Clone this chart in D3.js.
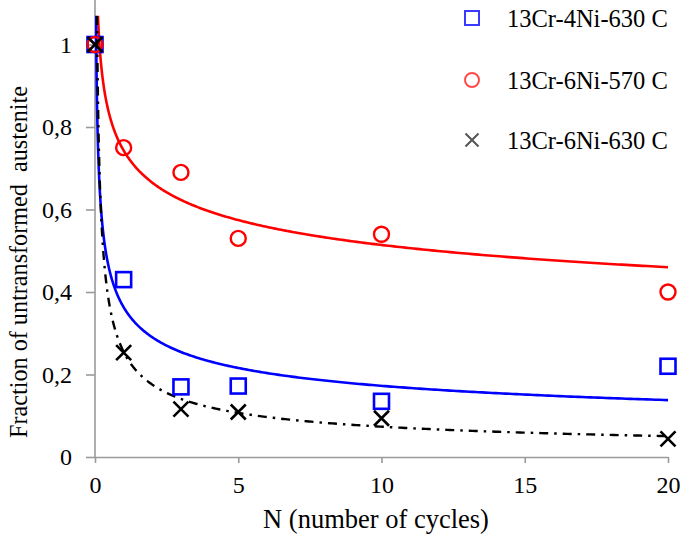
<!DOCTYPE html>
<html><head><meta charset="utf-8">
<script src="https://cdn.jsdelivr.net/npm/d3@7"></script>
<style>body{margin:0;background:#fff}svg{display:block}</style>
</head><body>
<svg id="c" width="685" height="538"></svg>
<script>
// ---- data ----
const cycles = [0, 1, 3, 5, 10, 20];
const seriesNames = ["13Cr-4Ni-630 C", "13Cr-6Ni-570 C", "13Cr-6Ni-630 C"];
const cr4ni630 = [1, 0.43, 0.17, 0.172, 0.135, 0.22];
const cr6ni570 = [1, 0.75, 0.69, 0.53, 0.54, 0.40];
const cr6ni630 = [1, 0.253, 0.116, 0.109, 0.094, 0.044];
// power-law trendlines y = a * N^b (coefficients)
const trendA = [0.363, 0.743, 0.255];
const trendB = [-0.323, -0.16, -0.54];
const xTicks = [0, 5, 10, 15, 20];
const yTicks = [0, 0.2, 0.4, 0.6, 0.8, 1];

const svg = d3.select("#c");
const font = "'Liberation Serif', 'Times New Roman', serif";
const x = d3.scaleLinear().domain([0, 20]).range([95, 668]);
const y = d3.scaleLinear().domain([0, 1.1]).range([457, 3.25]);

// clip for trendlines
svg.append("defs").append("clipPath").attr("id", "pc")
  .append("rect").attr("x", 95).attr("y", y(1.07)).attr("width", 600).attr("height", 457 - y(1.07));

// axes
const axisColor = "#9a9a9a";
const gx = svg.append("g").attr("transform", "translate(0,457)")
  .call(d3.axisBottom(x).tickValues(xTicks).tickSize(6).tickSizeOuter(0).tickFormat(d3.format("d")));
const gy = svg.append("g").attr("transform", "translate(95,0)")
  .call(d3.axisLeft(y).tickValues(yTicks).tickSize(9).tickSizeOuter(0)
    .tickFormat(d => d === 0 || d === 1 ? String(d) : d3.format(".1f")(d).replace(".", ",")));
[gx, gy].forEach(g => {
  g.select(".domain").attr("stroke", axisColor).attr("stroke-width", 1.6);
  g.selectAll(".tick line").attr("stroke", axisColor).attr("stroke-width", 1.6);
  g.selectAll("text").attr("fill", "#000").style("font-family", font).style("font-size", "24px");
});
gx.selectAll("text").attr("y", 0).attr("dy", "36px");
gy.selectAll("text").attr("x", -23).attr("dy", "0.33em");
gy.select(".domain").attr("d", "M0,0V457");

// axis titles
svg.append("text").attr("x", 376).attr("y", 528).attr("text-anchor", "middle")
  .style("font-family", font).style("font-size", "26.5px").text("N (number of cycles)");
svg.append("text").attr("transform", "translate(27,262) rotate(-90)").attr("text-anchor", "middle")
  .style("font-family", font).style("font-size", "24.2px").text("Fraction of untransformed\u00a0 austenite");

// trendlines
const colors = ["#0000ff", "#ff0000", "#000000"];
const samples = d3.range(0, 401).map(i => 20 * Math.pow(i / 400, 3)).filter(v => v > 0);
const line = d3.line().x(d => x(d[0])).y(d => y(d[1])).curve(d3.curveLinear);
const tg = svg.append("g").attr("clip-path", "url(#pc)");
[1, 0, 2].forEach(k => {
  const pts = samples.map(v => [v, trendA[k] * Math.pow(v, trendB[k])]).filter(p => p[1] < 1.3);
  tg.append("path").attr("d", line(pts)).attr("fill", "none")
    .attr("stroke", colors[k]).attr("stroke-width", k === 2 ? 2.4 : 2.6)
    .attr("stroke-dasharray", k === 2 ? "9,6,2.5,6" : null);
});

// markers
const mg = svg.append("g");
function square(g, cx, cy, s, col, w) {
  g.append("rect").attr("x", cx - s / 2).attr("y", cy - s / 2).attr("width", s).attr("height", s)
    .attr("fill", "none").attr("stroke", col).attr("stroke-width", w);
}
function circle(g, cx, cy, r, col, w) {
  g.append("circle").attr("cx", cx).attr("cy", cy).attr("r", r).attr("fill", "none")
    .attr("stroke", col).attr("stroke-width", w);
}
function cross(g, cx, cy, s, col, w) {
  g.append("path").attr("d", `M${cx - s},${cy - s}L${cx + s},${cy + s}M${cx - s},${cy + s}L${cx + s},${cy - s}`)
    .attr("stroke", col).attr("stroke-width", w).attr("fill", "none");
}
cycles.forEach((n, i) => square(mg, x(n), y(cr4ni630[i]), 15, "#0000ff", 2.6));
cycles.forEach((n, i) => circle(mg, x(n), y(cr6ni570[i]), 7.5, "#ff0000", 2.4));
cycles.forEach((n, i) => cross(mg, x(n), y(cr6ni630[i]), 7.5, "#000000", 2.6));

// legend
const lg = svg.append("g");
const ly = [18, 80, 140];
square(lg, 472, ly[0], 14, "#3a3aff", 2);
circle(lg, 472, ly[1], 7, "#ff4a4a", 2);
cross(lg, 472, ly[2], 6.5, "#555555", 2);
seriesNames.forEach((s, i) => lg.append("text").attr("x", 507).attr("y", ly[i]).attr("dy", "0.35em")
  .style("font-family", font).style("font-size", "24.5px").attr("fill", "#000").text(s));
</script>
</body></html>
